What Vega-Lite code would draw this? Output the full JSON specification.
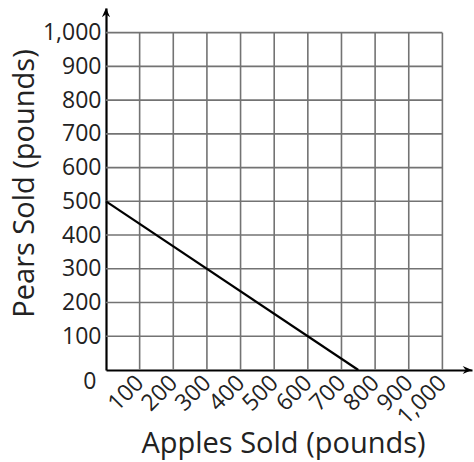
{
  "$schema": "https://vega.github.io/schema/vega-lite/v6.json",
  "width": 366,
  "height": 362,
  "autosize": {"type": "none"},
  "padding": {"left": 106, "top": 8, "right": 2, "bottom": 92},
  "background": "white",
  "config": {"view": {"stroke": null}, "font": "Open Sans", "axis": {"labelOverlap": false}, "axisY": {"labelOverlap": false}, "axisLeft": {"labelOverlap": false}},
  "datasets": {
    "grid": [{"v": 100}, {"v": 200}, {"v": 300}, {"v": 400}, {"v": 500}, {"v": 600}, {"v": 700}, {"v": 800}, {"v": 900}, {"v": 1000}],
    "line": [{"apples": 0, "pears": 500}, {"apples": 750, "pears": 0}],
    "arrows": [{"apples": 0, "pears": 1073, "dir": 0}, {"apples": 1088, "pears": 0, "dir": 90}]
  },
  "layer": [
    {
      "data": {"name": "grid"},
      "mark": {"type": "rule", "color": "#737373", "strokeWidth": 1.6},
      "encoding": {
        "x": {
          "field": "v", "type": "quantitative",
          "scale": {"domain": [0, 1088], "nice": false, "zero": true},
          "axis": {
            "title": "Apples Sold (pounds)",
            "values": [100, 200, 300, 400, 500, 600, 700, 800, 900, 1000],
            "format": ",d",
            "grid": false, "ticks": false,
            "domainColor": "black", "domainWidth": 2.2,
            "labelAngle": -45, "labelAlign": "right", "labelBaseline": "middle",
            "labelPadding": 9, "labelFontSize": 23, "labelColor": "#222",
            "labelOverlap": false, "labelFlush": false, "labelBound": false,
            "titleFontSize": 29, "titleFontWeight": "normal", "titleColor": "#222",
            "titleX": 177, "titleY": 82, "titleBaseline": "alphabetic", "titleAlign": "center"
          }
        },
        "y": {"datum": 0, "type": "quantitative", "scale": {"domain": [0, 1073], "nice": false, "zero": true}},
        "y2": {"datum": 1000}
      }
    },
    {
      "data": {"name": "grid"},
      "mark": {"type": "rule", "color": "#737373", "strokeWidth": 1.6},
      "encoding": {
        "y": {
          "field": "v", "type": "quantitative",
          "axis": {
            "title": "Pears Sold (pounds)",
            "values": [0, 100, 200, 300, 400, 500, 600, 700, 800, 900, 1000],
            "tickCount": 11,
            "format": ",d",
            "grid": false, "ticks": false,
            "domainColor": "black", "domainWidth": 2.2,
            "labelPadding": {"condition": {"test": "datum.value == 0", "value": 10}, "value": 5},
            "labelFontSize": 23, "labelColor": "#222",
            "labelOverlap": false, "labelFlush": false, "labelBound": false,
            "labelBaseline": {"condition": {"test": "datum.value == 0", "value": "top"}, "value": "middle"},
            "titleFontSize": 29, "titleFontWeight": "normal", "titleColor": "#222",
            "titleX": -82, "titleY": 175, "titleBaseline": "middle", "titleAlign": "center", "titleAngle": -90
          }
        },
        "x": {"datum": 0, "type": "quantitative"},
        "x2": {"datum": 1000}
      }
    },
    {
      "data": {"name": "line"},
      "mark": {"type": "line", "color": "black", "strokeWidth": 2.2},
      "encoding": {
        "x": {"field": "apples", "type": "quantitative"},
        "y": {"field": "pears", "type": "quantitative"}
      }
    },
    {
      "data": {"name": "arrows"},
      "mark": {
        "type": "point", "filled": true, "color": "black", "opacity": 1, "size": 120,
        "shape": "M0,0L-0.75,1.7L0,1.15L0.75,1.7Z"
      },
      "encoding": {
        "x": {"field": "apples", "type": "quantitative"},
        "y": {"field": "pears", "type": "quantitative"},
        "angle": {"field": "dir", "type": "quantitative", "scale": null}
      }
    }
  ]
}
